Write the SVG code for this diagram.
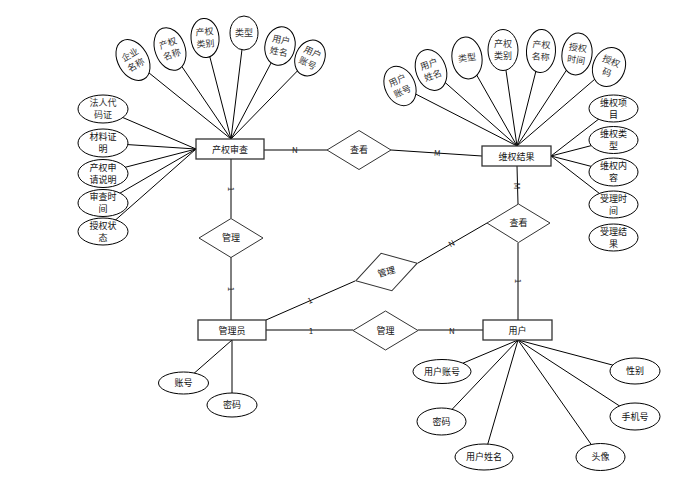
<svg xmlns="http://www.w3.org/2000/svg" width="688" height="485" viewBox="0 0 688 485">
<style>
text{font-family:"Noto Sans CJK SC","Liberation Sans",sans-serif;fill:#111;text-anchor:middle}
.t{font-size:9px}
.s{font-size:9px;fill:#333}
.lbl{font-size:8px;fill:#222}
.e{fill:#fff;stroke:#000;stroke-width:1}
.r{fill:#fff;stroke:#333;stroke-width:1.3}
.d{fill:#fff;stroke:#333;stroke-width:1}
.c line{stroke:#000;stroke-width:1}
</style>
<rect width="688" height="485" fill="#fff"/>
<g id="connectors" class="c">
<line x1="133" y1="60" x2="231" y2="139"/>
<line x1="170" y1="49" x2="231" y2="139"/>
<line x1="205" y1="38" x2="231" y2="139"/>
<line x1="244" y1="33" x2="231" y2="139"/>
<line x1="280" y1="46" x2="231" y2="139"/>
<line x1="310" y1="58" x2="231" y2="139"/>
<line x1="103" y1="109" x2="196" y2="149"/>
<line x1="103" y1="143" x2="196" y2="149"/>
<line x1="103" y1="173" x2="196" y2="149"/>
<line x1="103" y1="203" x2="196" y2="149"/>
<line x1="103" y1="231" x2="196" y2="149"/>
<line x1="400" y1="86" x2="517" y2="146"/>
<line x1="431" y1="70" x2="517" y2="146"/>
<line x1="467" y1="58" x2="517" y2="146"/>
<line x1="503" y1="50" x2="517" y2="146"/>
<line x1="541" y1="51" x2="517" y2="146"/>
<line x1="577" y1="54" x2="517" y2="146"/>
<line x1="609" y1="67" x2="517" y2="146"/>
<line x1="613" y1="108" x2="551" y2="156"/>
<line x1="613" y1="140" x2="551" y2="156"/>
<line x1="613" y1="172" x2="551" y2="156"/>
<line x1="613" y1="204" x2="551" y2="156"/>
<line x1="183" y1="383" x2="232" y2="340"/>
<line x1="232" y1="405" x2="232" y2="340"/>
<line x1="442" y1="372" x2="518" y2="340"/>
<line x1="441" y1="421" x2="518" y2="340"/>
<line x1="484" y1="457" x2="518" y2="340"/>
<line x1="600" y1="457" x2="518" y2="340"/>
<line x1="635" y1="416" x2="518" y2="340"/>
<line x1="635" y1="371" x2="518" y2="340"/>
<line x1="264" y1="150" x2="327" y2="150"/>
<line x1="391" y1="150" x2="482" y2="156"/>
<line x1="231" y1="159" x2="231" y2="218"/>
<line x1="231" y1="257" x2="231" y2="320"/>
<line x1="517" y1="166" x2="518" y2="204"/>
<line x1="518" y1="243" x2="518" y2="320"/>
<line x1="266" y1="320" x2="355" y2="281"/>
<line x1="418" y1="263" x2="487" y2="223"/>
<line x1="266" y1="330" x2="353" y2="330"/>
<line x1="418" y1="330" x2="483" y2="330"/>
<text class="lbl" x="295" y="153">N</text>
<text class="lbl" transform="translate(437,156) rotate(4)" fill="#666">M</text>
<text class="lbl" transform="translate(228,189) rotate(90)">1</text>
<text class="lbl" transform="translate(228,289) rotate(90)" fill="#666">1</text>
<text class="lbl" transform="translate(514,186) rotate(90)" fill="#666">M</text>
<text class="lbl" transform="translate(515,281) rotate(90)">1</text>
<text class="lbl" transform="translate(311,303) rotate(-24)" fill="#555">1</text>
<text class="lbl" transform="translate(453,246) rotate(-30)" fill="#777">N</text>
<text class="lbl" x="311" y="334">1</text>
<text class="lbl" x="452" y="334">N</text>
</g>
<g id="e-chanquanshencha"><rect class="r" x="196" y="139" width="68" height="20"/><text class="t" x="230" y="152.5">产权审查</text></g>
<g id="e-weiquanjieguo"><rect class="r" x="482" y="146" width="69" height="20"/><text class="t" x="516.5" y="159.5">维权结果</text></g>
<g id="e-guanliyuan"><rect class="r" x="198" y="320" width="68" height="20"/><text class="t" x="232" y="333.5">管理员</text></g>
<g id="e-yonghu"><rect class="r" x="483" y="320" width="69" height="20"/><text class="t" x="517.5" y="333.5">用户</text></g>
<g id="r-chakan1"><polygon class="d" points="327,150 359,130.5 391,150 359,169.5"/><text class="t" x="359" y="153">查看</text></g>
<g id="r-chakan2"><polygon class="d" points="487,223 518.5,204 550,223 518.5,242.5"/><text class="t" x="518.5" y="226">查看</text></g>
<g id="r-guanli1"><polygon class="d" points="199,238 231,218.5 263,238 231,257.5"/><text class="t" x="231" y="241">管理</text></g>
<g id="r-guanli2" transform="translate(386.5,272) rotate(-16)"><polygon class="d" points="-32,0 0,-19.5 32,0 0,19.5"/><text class="t" x="0" y="3" fill="#666">管理</text></g>
<g id="r-guanli3"><polygon class="d" points="353,330.5 385.5,311 418,330.5 385.5,350"/><text class="t" x="385.5" y="333.5">管理</text></g>
<g id="a1" transform="translate(133,60) rotate(-30)"><ellipse class="e" rx="15" ry="22"/><text class="s" y="-3">企业</text><text class="s" y="9">名称</text></g>
<g id="a2" transform="translate(170,49) rotate(-20)"><ellipse class="e" rx="15" ry="22"/><text class="s" y="-3">产权</text><text class="s" y="9">名称</text></g>
<g id="a3" transform="translate(205,38) rotate(-5)"><ellipse class="e" rx="14" ry="19.5"/><text class="s" y="-3">产权</text><text class="s" y="9">类别</text></g>
<g id="a4" transform="translate(244,33)"><ellipse class="e" rx="14" ry="17"/><text class="s" y="3">类型</text></g>
<g id="a5" transform="translate(280,46) rotate(12)"><ellipse class="e" rx="15" ry="19.5"/><text class="s" y="-3">用户</text><text class="s" y="9">姓名</text></g>
<g id="a6" transform="translate(310,58) rotate(25)"><ellipse class="e" rx="14.5" ry="18.5"/><text class="s" y="-3">用户</text><text class="s" y="9">账号</text></g>
<g id="a7"><ellipse class="e" cx="103" cy="109" rx="25" ry="14"/><text class="s" x="103" y="106" fill="#777">法人代</text><text class="s" x="103" y="118" fill="#777">码证</text></g>
<g id="a8"><ellipse class="e" cx="103" cy="143" rx="25" ry="14"/><text class="t" x="103" y="140">材料证</text><text class="t" x="103" y="152">明</text></g>
<g id="a9"><ellipse class="e" cx="103" cy="173.5" rx="25" ry="14"/><text class="t" x="103" y="170.5">产权申</text><text class="t" x="103" y="182.5">请说明</text></g>
<g id="a10"><ellipse class="e" cx="103" cy="203" rx="25" ry="13.5"/><text class="t" x="103" y="200">审查时</text><text class="t" x="103" y="212">间</text></g>
<g id="a11"><ellipse class="e" cx="103" cy="231.5" rx="25" ry="13.5"/><text class="t" x="103" y="228.5">授权状</text><text class="t" x="103" y="240.5">态</text></g>
<g id="b1" transform="translate(400,86) rotate(-25)"><ellipse class="e" rx="15" ry="20.5"/><text class="s" y="-3">用户</text><text class="s" y="9">账号</text></g>
<g id="b2" transform="translate(431,70) rotate(-20)"><ellipse class="e" rx="15" ry="21"/><text class="s" y="-3">用户</text><text class="s" y="9">姓名</text></g>
<g id="b3" transform="translate(467,58) rotate(-8)"><ellipse class="e" rx="15" ry="21"/><text class="s" y="3">类型</text></g>
<g id="b4" transform="translate(503,50)"><ellipse class="e" rx="15" ry="20.5"/><text class="s" y="-3">产权</text><text class="s" y="9">类别</text></g>
<g id="b5" transform="translate(541,51) rotate(3)"><ellipse class="e" rx="14.5" ry="21.5"/><text class="s" y="-3">产权</text><text class="s" y="9">名称</text></g>
<g id="b6" transform="translate(577,54) rotate(8)"><ellipse class="e" rx="15" ry="21"/><text class="s" y="-3">授权</text><text class="s" y="9">时间</text></g>
<g id="b7" transform="translate(609,67) rotate(22)"><ellipse class="e" rx="16" ry="20"/><text class="s" y="-3">授权</text><text class="s" y="9">码</text></g>
<g id="b8"><ellipse class="e" cx="613.5" cy="108.5" rx="24.5" ry="13.5"/><text class="t" x="613.5" y="105.5">维权项</text><text class="t" x="613.5" y="117.5">目</text></g>
<g id="b9"><ellipse class="e" cx="613.5" cy="140" rx="24.5" ry="13.5"/><text class="t" x="613.5" y="137">维权类</text><text class="t" x="613.5" y="149">型</text></g>
<g id="b10"><ellipse class="e" cx="613.5" cy="172" rx="24.5" ry="14"/><text class="t" x="613.5" y="169">维权内</text><text class="t" x="613.5" y="181">容</text></g>
<g id="b11"><ellipse class="e" cx="613.5" cy="204.5" rx="24.5" ry="13.5"/><text class="t" x="613.5" y="201.5">受理时</text><text class="t" x="613.5" y="213.5">间</text></g>
<g id="b12"><ellipse class="e" cx="613.5" cy="237.5" rx="24.5" ry="13.5"/><text class="t" x="613.5" y="234.5">受理结</text><text class="t" x="613.5" y="246.5">果</text></g>
<g id="c1"><ellipse class="e" cx="183.5" cy="383" rx="25" ry="11"/><text class="t" x="183.5" y="386">账号</text></g>
<g id="c2"><ellipse class="e" cx="232" cy="405" rx="25" ry="12"/><text class="t" x="232" y="408">密码</text></g>
<g id="u1"><ellipse class="e" cx="442" cy="371.5" rx="29" ry="12"/><text class="t" x="442" y="374.5">用户账号</text></g>
<g id="u2"><ellipse class="e" cx="441.5" cy="421.5" rx="24.5" ry="13.5"/><text class="t" x="441.5" y="424.5">密码</text></g>
<g id="u3"><ellipse class="e" cx="484" cy="457" rx="29" ry="13"/><text class="t" x="484" y="460">用户姓名</text></g>
<g id="u4"><ellipse class="e" cx="600.5" cy="457" rx="24.5" ry="13.5"/><text class="t" x="600.5" y="460">头像</text></g>
<g id="u5"><ellipse class="e" cx="635" cy="416.5" rx="25" ry="13.5"/><text class="t" x="635" y="419.5">手机号</text></g>
<g id="u6"><ellipse class="e" cx="635" cy="371" rx="25" ry="13"/><text class="t" x="635" y="374">性别</text></g>
</svg>
